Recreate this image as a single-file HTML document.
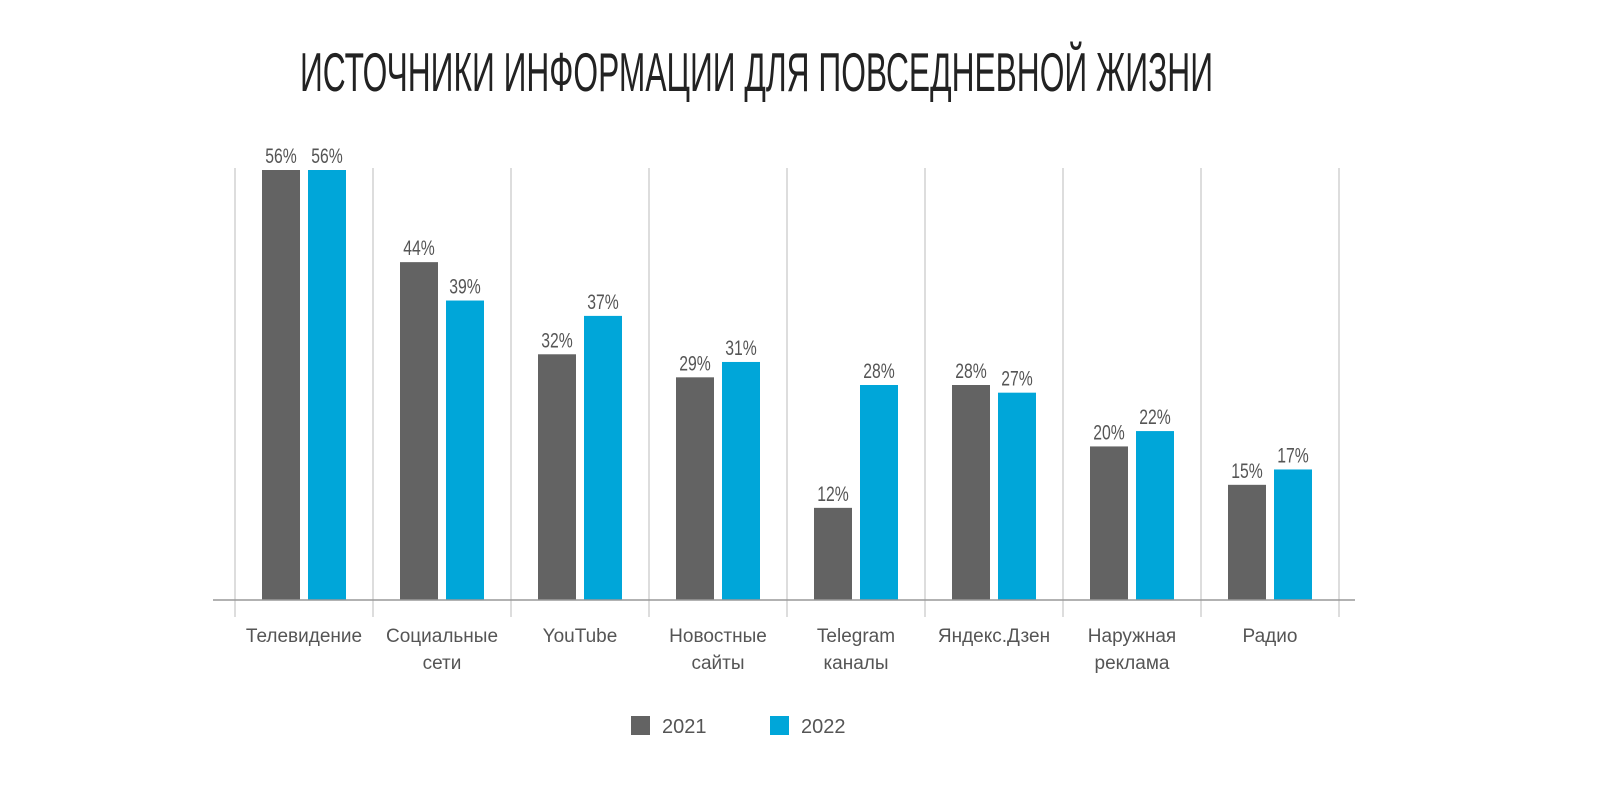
<!DOCTYPE html>
<html><head><meta charset="utf-8"><style>
body{margin:0;background:#fff;}
svg{display:block;}
text{font-family:"Liberation Sans",sans-serif;}
</style></head><body>
<svg id="chart" width="1600" height="800" xmlns="http://www.w3.org/2000/svg">
<text x="300" y="91" font-size="55" fill="#222" textLength="913" lengthAdjust="spacingAndGlyphs">ИСТОЧНИКИ ИНФОРМАЦИИ ДЛЯ ПОВСЕДНЕВНОЙ ЖИЗНИ</text>
<g id="grid"></g><g id="bars"></g><g id="labels"></g>
<line x1="213" x2="1355" y1="600" y2="600" stroke="#999" stroke-width="1.5"/>
<g>
<rect x="631" y="716" width="19" height="19" fill="#636363"/>
<text x="662" y="733" font-size="20" fill="#555">2021</text>
<rect x="770" y="716" width="19" height="19" fill="#00a6d9"/>
<text x="801" y="733" font-size="20" fill="#555">2022</text>
</g>
</svg>
<script>
const categories=[["Телевидение"],["Социальные","сети"],["YouTube"],["Новостные","сайты"],["Telegram","каналы"],["Яндекс.Дзен"],["Наружная","реклама"],["Радио"]];
const values2021=[56,44,32,29,12,28,20,15];
const values2022=[56,39,37,31,28,27,22,17];
const NS="http://www.w3.org/2000/svg";
const x0=235,gw=138,base=600,k=430/56;
const y=v=>base-v*k;
const grid=document.getElementById('grid'),bars=document.getElementById('bars'),labels=document.getElementById('labels');
function mk(tag,attrs,parent){const e=document.createElementNS(NS,tag);for(const a in attrs)e.setAttribute(a,attrs[a]);parent.appendChild(e);return e;}
for(let i=0;i<=categories.length;i++){
 const l=mk('line',{x1:x0+i*gw,x2:x0+i*gw,y1:168,y2:617,stroke:'#bbb','stroke-width':1},grid);
 
 
}
categories.forEach((c,i)=>{
 const gx=x0+i*gw;
 [[values2021[i],'#636363',27,'2021'],[values2022[i],'#00a6d9',73,'2022']].forEach(([v,col,off,yr])=>{
  const r=mk('rect',{x:gx+off,y:y(v),width:38,height:base-y(v),fill:col},bars);
  
  
  const cx=gx+off+19;
  const t=mk('text',{x:cx,y:y(v)-7,'font-size':21,fill:'#555','text-anchor':'middle',transform:`translate(${cx},0) scale(0.75,1) translate(${-cx},0)`},labels);
  t.textContent=v+'%';
  
  
 });
 c.forEach((ln,j)=>{
  const t=mk('text',{x:gx+gw/2,y:642+j*27,'font-size':19,fill:'#555','text-anchor':'middle'},labels);
  t.textContent=ln;
  
  
 });
});
</script>
</body></html>
